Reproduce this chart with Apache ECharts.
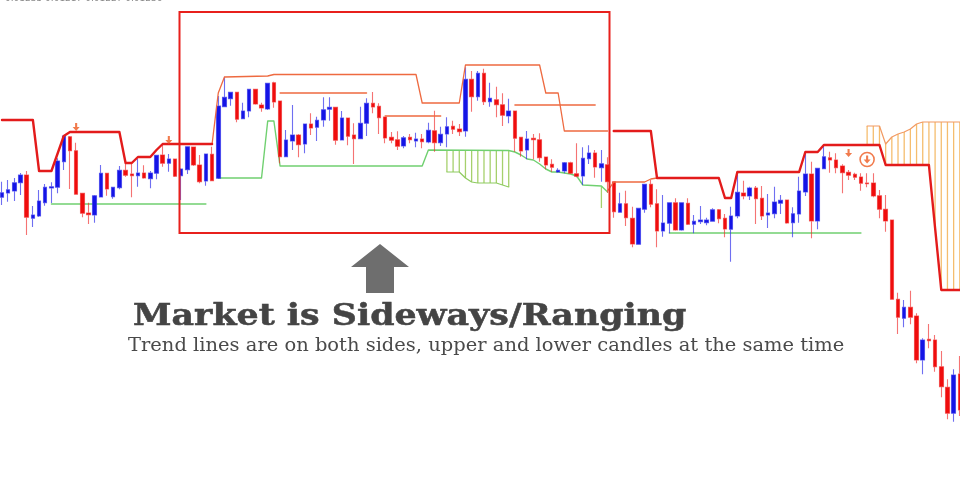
<!DOCTYPE html>
<html><head><meta charset="utf-8">
<style>html,body{margin:0;padding:0;background:#fff}#c{width:960px;height:481px}</style>
<script src="https://cdn.jsdelivr.net/npm/echarts@6/dist/echarts.min.js"></script>
</head><body><div id="c"></div>
<script>
const opens=[283.7,288,290,298.3,306,262.7,265,278.3,293,293.7,319.3,344.3,330.3,287.7,268,266,284,307.7,284.3,293.3,
310.7,307,305.3,308,302.3,307.7,326,317.7,322,305.3,311.3,334,316,300,326.7,302.7,374.3,382.3,388.7,362.3,
370,391.7,376,372,398.3,380,324.3,340,346,337,357,353.7,361,371.7,373.7,341,363,346,342.3,357.7,
377.7,374.7,364,343.7,341.3,335,343.7,340,342,339,350.3,338.3,347,354.7,352,350,401.7,384.3,407.7,379.3,
381.3,376.3,365,370,343.7,331,342.7,341.3,324,316.7,309,310,318.3,307.3,305,322.3,328,313.3,316.3,299.3,
268.7,277.3,262.7,236.7,271.7,296.7,277.3,250,257.7,278.3,251,277.7,256.7,259.3,258.3,259.7,271.3,262.7,251.7,265,
288,285,293,282.7,266,267.3,277.7,281,258.3,267,289,307,260,312.3,323.3,321,315,308.7,306.7,304,
298,298,285.3,271.7,261,181.7,162.7,173.7,165,121,141.7,141,114.3,93.7,67.7,107];
const closes=[288.3,291.3,298.3,306,263.7,266,280,293.7,294.3,320,345,330.3,286.7,267.7,266.3,285.3,307.7,292,293.7,310.7,
305.7,305.3,308,303,308,325.7,317.7,322,304.7,312,334.3,316,299.3,327,300.3,375,383.7,388.7,361.7,370,
391.7,377,373,397.7,379,324.3,341,346,336.3,357,353,360.7,371.3,373.7,340.7,363,344.7,342.3,357.7,377.7,
374,363.3,343,340.7,334.7,343.3,341.3,342,339.3,350.7,338.3,346.7,354.3,351.7,349.3,401.7,384.3,407.7,379.3,382.7,
376.3,365.7,370,342.7,330,342,341.3,323.3,316,313.7,310.7,318.3,307.7,304.7,322.7,328,314,317.3,299.3,269.3,
277.3,263.3,237,272.7,296.7,276.7,250,258,278.3,251,278.3,256.7,259.7,261,261,271.3,262.3,252,265,288.7,
285,293,282.3,265,268,279,280.7,258,267.3,290,307,260,312.7,324.3,321,313.3,308.3,305.7,303.7,297.7,
297.3,285,271.7,260,181.7,163.7,173.7,163.7,121,141,140.3,114.3,94.3,67.7,106,71];
const highs=[299.3,301,303,308,310,275,291,297,298.7,322.7,345.7,345,338.3,288,278.3,286,316,307.7,293.7,315,
317.7,317,322,315.7,310,326.3,336,327,322,312.7,334.3,334,326,327,334.3,385,404.3,388.7,389.3,378.3,
391.7,391.7,378.3,397.7,399.3,380,351,376,347,357,367.7,364.3,383.7,383.7,373.7,370,363,357.7,374.3,382.7,
389,377.7,364,349,349.7,345,347,348.3,347,358.3,370.3,354.3,363.7,360.3,357,413.7,410,410,412.3,398.3,
394.3,387.7,382.3,370,343.7,350,347,347.7,324,321.7,312.7,319,319.3,337.7,333.7,335.7,331,331,323.7,299.3,
288.3,290.3,274.3,272.7,296.7,301,291.7,286,278.3,282.7,278.3,282.7,266,275,263.3,272.7,272,267,274.3,306,
300.3,294.3,295,295,287,294.3,286,281,273.7,304.3,329.3,319.3,312.7,335,329.3,327.7,316.7,311,308.3,307.7,
307.7,307.7,291,286,261,188.3,181,190.3,167.7,142.7,157,146,130,101.7,111.7,125];
const lows=[276,279.3,280,286,246,254,264,275.3,278,287.7,311,292,286.7,263.7,257,258.3,283.7,285.3,282.3,291.7,
304.3,283.7,294.3,302.3,292.7,301.7,314.3,309.3,304,281,307,315,297.7,295.3,300.3,302,374.3,375.3,358.7,362.3,
363.7,376.3,369.3,371,373.3,317.7,323.7,331,323.7,327.7,346,340,354.3,360.3,336.3,341,335.7,317,341.7,345,
367.7,347,337.7,337.7,331,332.7,337.7,333.7,332.7,337.7,329.3,335,333.7,347,345,344.3,369.3,380.3,376,374.3,
363.7,355,357.7,329.3,324.3,321.7,321.7,319.3,311.7,309.3,308.3,307.7,307,303.7,296,317,303.3,299.3,288.3,263.3,
268.7,255,233.7,236.7,268.3,273.7,233.7,244.3,247.7,250.3,250.3,256,247.7,257,255.7,259.3,257.7,243.7,219.3,262.7,
281.7,281,257,261,253,262.7,267,257.3,243.7,258.3,285,242.7,251.7,311.7,308.3,307.7,287.7,301,301,290.3,
293.7,283.7,262.7,249.3,181.7,147,153.7,156.7,117.7,106.7,132.7,109.3,83.7,61.7,59.3,65];

// Indicator lines: [bar index, price] read at each break point; '-' breaks the line
const thickTrail=[[0,361],[5,361],[6,310],[8,310],[10,345],[11,349],[19,349],[20,318],[21,318],[22,324],[24,324],[25,331],[26,337],[34,337],[35,'-'],[99,350],[105,350],[106,303],[116,303],[117,283],[118,283],[119,309],[129,309],[130,329],[132,329],[133,336],[142,336],[143,316],[150,316],[151,253],[152,191],[155,191]];
const thinUpper=[[34,337],[35,388],[36,404],[43,405],[44,406.5],[67,406.5],[68,378],[74,378],[75,416],[87,416],[88,388],[90,388],[91,350],[98,350]];
const thinLevels=[[45,388],[59,388],[60,'-'],[62,365],[71,365],[72,'-'],[83,376],[96,376],[97,'-'],[98,290],[99,299],[104,299],[105,302],[106,303]];
const greenLower=[[8,277],[33,277],[34,'-'],[35,303],[42,303],[43,360],[44,360],[45,315],[68,315],[69,331],[82,330.5],[83,329],[84,326],[85,322],[86,321],[87,317],[88,312],[89,309],[90,309],[91,308],[92,307],[93,305],[94,296],[97,295],[98,289],[99,'-'],[108,248],[139,248]];
const greenCloudEdge=[[72,309],[74,309],[75,303],[76,299],[77,298],[80,298],[81,296],[82,294]];
const orangeCloudEdge=[[140,355],[142,355],[143,337],[144,344],[145,347],[146,349],[147,352],[148,357],[149,359],[155,359]];
// Cloud hatching: [bar index, top, bottom]
const greenHatch=[[72,330.5,309],[73,330.5,309],[74,330.5,309],[75,330.5,303],[76,330.5,299],[77,330.5,298],[78,330.5,298],[79,330.5,298],[80,330.5,298],[81,330.5,296],[82,330.5,294],[97,295,273]];
const orangeHatch=[[140,355,336],[141,355,336],[142,355,336],[143,337,316],[144,344,316],[145,347,316],[146,349,316],[147,352,316],[148,357,316],[149,359,316],[150,359,316],[151,359,253],[152,359,191],[153,359,191],[154,359,191],[155,359,191]];
const smallArrows=[[12,354],[27,341],[137,328]];
const circledArrow=[[140,321.5]];

const titleText='Market is Sideways/Ranging';
const subText='Trend lines are on both sides, upper and lower candles at the same time';
const quoteText='0.01235 0.01217 0.01227 0.01236';

const categories=opens.map((_,i)=>String(i));
const candles=opens.map((o,i)=>[o,closes[i],lows[i],highs[i]]);
const RED='#f00d0d',BLUE='#1414e6';
const arrowPath='path://M3.5 0h3v6h3.5L5 12 0 6h3.5z';
const line=(data,color,width,z)=>({type:'line',data,showSymbol:false,symbol:'none',connectNulls:false,z,
  lineStyle:{color,width,cap:'round',join:'round'},silent:true});
const hatch=(data,color)=>({type:'custom',data,z:1,encode:{x:0,y:[1,2]},silent:true,
  renderItem:(p,api)=>{const a=api.coord([api.value(0),api.value(1)]),b=api.coord([api.value(0),api.value(2)]);
    return {type:'line',shape:{x1:a[0],y1:a[1],x2:b[0],y2:b[1]},style:{stroke:color,lineWidth:1.3}};}});

const chart=echarts.init(document.getElementById('c'),null,{renderer:'canvas'});
chart.setOption({
  animation:false,backgroundColor:'#fff',
  grid:{left:-1.1,top:0,width:964,height:481,containLabel:false,outerBoundsMode:'none'},
  xAxis:{type:'category',data:categories,show:false,boundaryGap:true},
  yAxis:{type:'value',min:0,max:481,show:false,scale:false},
  series:[
    hatch(greenHatch,'#a6d06c'),
    hatch(orangeHatch,'#f5bd6e'),
    line(greenCloudEdge,'#8ecb60',1.2,2),
    line(orangeCloudEdge,'#f29a62',1.2,2),
    line(greenLower,'#70d070',1.4,2),
    {type:'candlestick',data:candles,barWidth:4,z:3,silent:true,
      itemStyle:{color:BLUE,color0:RED,borderColor:'rgba(50,50,235,0.7)',borderColor0:'rgba(240,40,40,0.65)',borderWidth:1.1}},
    line(thinUpper,'#ee6a40',1.3,4),
    line(thinLevels,'#ee6a40',1.3,4),
    line(thickTrail,'#e31b1b',2.4,5),
    {type:'scatter',data:smallArrows,symbol:arrowPath,symbolSize:[7,8],z:6,silent:true,itemStyle:{color:'#ee5a20'}},
    {type:'scatter',data:circledArrow,symbol:'circle',symbolSize:14,z:6,silent:true,itemStyle:{color:'rgba(255,255,255,0)',borderColor:'#ee5a20',borderWidth:1.6}},
    {type:'scatter',data:circledArrow,symbol:arrowPath,symbolSize:[7,8],z:7,silent:true,itemStyle:{color:'#ee5a20'}}
  ],
  graphic:[
    {type:'rect',shape:{x:179.5,y:12,width:430,height:221},style:{fill:'none',stroke:'#e8201c',lineWidth:2},z:20},
    {type:'polygon',shape:{points:[[380,244],[409,267],[394,267],[394,293],[366,293],[366,267],[351,267]]},style:{fill:'#6e6e6e'},z:20},
    {type:'text',x:133,y:317,scaleX:1.2,style:{text:titleText,fill:'#444',stroke:'#444',lineWidth:0.5,font:'bold 29px "DejaVu Serif"',textVerticalAlign:'middle',textAlign:'left'},z:20},
    {type:'text',x:128,y:346,scaleX:1.053,style:{text:subText,fill:'#4a4a4a',font:'18.5px "DejaVu Serif"',textVerticalAlign:'middle',textAlign:'left'},z:20},
    {type:'text',x:5,y:-6,style:{text:quoteText,fill:'#8a8a8a',font:'9px "DejaVu Sans"',textVerticalAlign:'top',textAlign:'left'},z:20}
  ]
});
</script></body></html>
